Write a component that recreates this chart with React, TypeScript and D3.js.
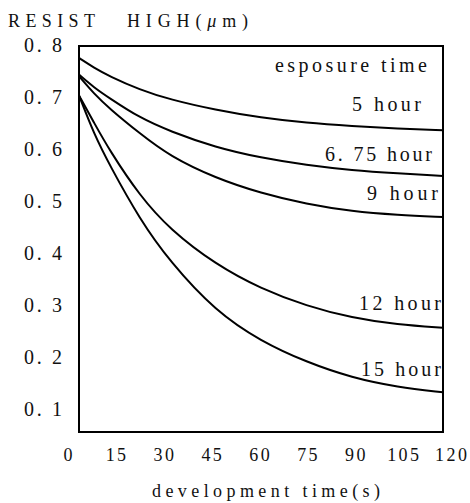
import React from "react";
import * as d3 from "d3";

const times = [0, 5, 10, 20, 30, 45, 60, 75, 90, 105, 120];

// resist height (µm) per exposure time
const h5 = [0.777, 0.758, 0.742, 0.716, 0.697, 0.677, 0.662, 0.652, 0.646, 0.641, 0.638];
const h675 = [0.745, 0.72, 0.7, 0.662, 0.636, 0.605, 0.585, 0.571, 0.561, 0.555, 0.55];
const h9 = [0.742, 0.708, 0.68, 0.632, 0.588, 0.546, 0.517, 0.496, 0.482, 0.475, 0.471];
const h12 = [0.705, 0.652, 0.6, 0.512, 0.447, 0.38, 0.333, 0.3, 0.277, 0.264, 0.258];
const h15 = [0.705, 0.63, 0.572, 0.467, 0.385, 0.29, 0.232, 0.192, 0.162, 0.144, 0.134];

const seriesNames = ["5 hour", "6. 75 hour", "9 hour", "12 hour", "15 hour"];
const seriesValues = [h5, h675, h9, h12, h15];

const yTicks = [0.8, 0.7, 0.6, 0.5, 0.4, 0.3, 0.2, 0.1];
const yTickLabels = ["0. 8", "0. 7", "0. 6", "0. 5", "0. 4", "0. 3", "0. 2", "0. 1"];
const xTicks = [0, 15, 30, 45, 60, 75, 90, 105, 120];

const W = 470;
const H = 503;
const plot = { left: 79, top: 46, right: 443, bottom: 432 };
const serif = "Liberation Serif, DejaVu Serif, serif";

// curve label placement: right edge offset from frame, baseline offset from curve end, width
const labelDx = [-22, -11, -5, -2, -2];
const labelDy = [-19, -15, -17, -18, -16];
const labelW = [69, 107, 71, 82, 80];

export default function App() {
  const x = d3.scaleLinear().domain([0, 120]).range([plot.left, plot.right]);
  const y = d3.scaleLinear().domain([0.0577, 0.8]).range([plot.bottom, plot.top]);
  // tick labels in the scan sit a bit wider than the frame
  const xLab = d3.scaleLinear().domain([0, 120]).range([68, 451]);

  const line = d3
    .line<number>()
    .x((_, i) => x(times[i]))
    .y((d) => y(d))
    .curve(d3.curveBasis);

  const txt = { fontFamily: serif, fill: "#111" };

  return (
    <svg
      width={W}
      height={H}
      style={{ position: "absolute", left: 0, top: 0, background: "#fff" }}
      fontFamily={serif}
    >
      <rect width={W} height={H} fill="#fff" />
      <text x={8} y={27} fontSize={18} textLength={87} lengthAdjust="spacing" style={txt}>
        RESIST
      </text>
      <text x={127} y={27} fontSize={18} textLength={121} lengthAdjust="spacing" style={txt}>
        HIGH(<tspan fontStyle="italic">μ</tspan>m)
      </text>

      {seriesValues.map((vals, i) => (
        <path key={i} d={line(vals) || ""} fill="none" stroke="#000" strokeWidth={2} />
      ))}

      <rect
        x={plot.left}
        y={plot.top}
        width={plot.right - plot.left}
        height={plot.bottom - plot.top}
        fill="none"
        stroke="#000"
        strokeWidth={2}
      />

      {yTicks.map((t, i) => (
        <text
          key={t}
          x={62}
          y={y(t) + 6}
          textAnchor="end"
          fontSize={20}
          textLength={38}
          lengthAdjust="spacing"
          style={txt}
        >
          {yTickLabels[i]}
        </text>
      ))}

      {xTicks.map((t) => (
        <text
          key={t}
          x={xLab(t) + 1.2}
          y={461}
          textAnchor="middle"
          fontSize={18}
          letterSpacing={2.4}
          style={txt}
        >
          {t}
        </text>
      ))}

      <text
        x={266}
        y={497}
        textAnchor="middle"
        fontSize={18}
        textLength={228}
        lengthAdjust="spacing"
        style={txt}
      >
        development time(s)
      </text>

      <text
        x={427}
        y={72}
        textAnchor="end"
        fontSize={20}
        textLength={152}
        lengthAdjust="spacing"
        style={txt}
      >
        esposure time
      </text>
      {seriesNames.map((name, i) => {
        const vals = seriesValues[i];
        return (
          <text
            key={name}
            x={x(120) + labelDx[i]}
            y={y(vals[vals.length - 1]) + labelDy[i]}
            textAnchor="end"
            fontSize={20}
            textLength={labelW[i]}
            lengthAdjust="spacing"
            style={txt}
          >
            {name}
          </text>
        );
      })}
    </svg>
  );
}
